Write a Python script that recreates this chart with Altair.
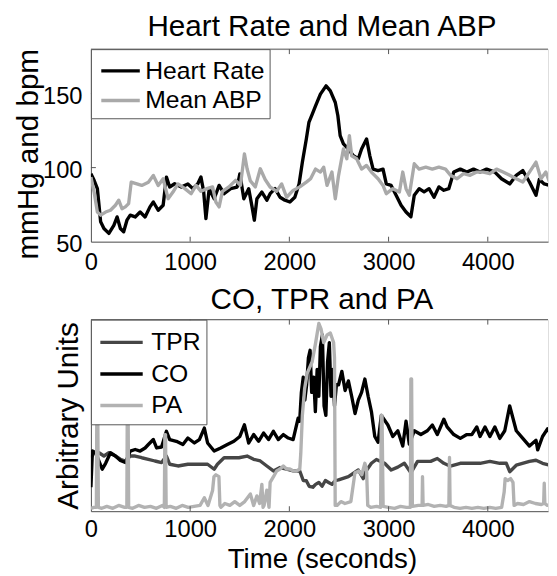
import altair as alt
import pandas as pd

FONT = "Liberation Sans"

# ---------------- data ----------------
hr_t = [0, 32, 65, 98, 131, 181, 231, 264, 297, 330, 363, 396, 446, 496, 546, 595, 629, 678, 728, 761,
        794, 844, 911, 977, 1027, 1076, 1109, 1136, 1159, 1192, 1242, 1292, 1342, 1408, 1474, 1501, 1541,
        1590, 1624, 1647, 1673, 1723, 1773, 1806, 1856, 1906, 1955, 2005, 2055, 2098, 2131, 2171, 2197,
        2230, 2264, 2313, 2370, 2413, 2463, 2489, 2512, 2545, 2595, 2645, 2695, 2728, 2778, 2811, 2844,
        2894, 2944, 2977, 3026, 3076, 3126, 3176, 3225, 3259, 3308, 3358, 3408, 3458, 3507, 3557, 3607,
        3657, 3723, 3789, 3856, 3922, 3988, 4071, 4138, 4221, 4287, 4353, 4420, 4486, 4519, 4569, 4622]
hr_v = [95.8, 91.4, 85.8, 63.4, 58.9, 55.6, 61, 66.7, 58.9, 56.7, 64.5, 67.9, 66.7, 70, 66.7, 73.5, 76.8,
        71.2, 74.6, 93.6, 86.9, 89.1, 86.9, 89, 85.8, 89, 93.6, 84, 65.6, 85.8, 79, 88, 82.4, 85.8, 86.9,
        95.8, 79, 85.8, 73.5, 64.5, 79, 83.5, 78, 82.4, 85.8, 80, 78, 76.8, 80, 89, 103.7, 119.3, 130.5,
        136, 141.7, 149.6, 155.2, 151.8, 144, 135, 121.6, 116, 112.6, 108, 106, 112.6, 119.4, 108, 99,
        98, 99, 89, 88, 81.3, 74.6, 70, 66.8, 81.3, 85.8, 83.6, 85.8, 80, 87, 84.7, 85.8,
        97, 99, 97, 99, 97, 99, 97, 92.5, 89, 94.8, 98, 90.3, 81.3, 92, 89, 88]

abp_t = [0, 32, 65, 98, 148, 197, 247, 280, 313, 347, 380, 406, 463, 512, 579, 629, 678, 728, 778, 827,
         877, 944, 1010, 1060, 1109, 1176, 1226, 1259, 1292, 1325, 1391, 1458, 1507, 1547, 1574, 1607,
         1657, 1707, 1756, 1806, 1872, 1922, 1972, 2038, 2105, 2171, 2214, 2264, 2313, 2346, 2380, 2429,
         2463, 2496, 2545, 2579, 2605, 2628, 2678, 2728, 2778, 2827, 2894, 2944, 2977, 3043, 3109, 3143,
         3176, 3209, 3259, 3308, 3375, 3441, 3507, 3574, 3624, 3690, 3756, 3822, 3889, 3955, 4021, 4088,
         4154, 4221, 4287, 4353, 4420, 4486, 4536, 4585, 4622]
abp_v = [93.6, 83.5, 70, 67.9, 70, 71.2, 74.6, 78, 72.3, 73.5, 75.7, 90.2, 89, 88, 90.2, 94.7, 88, 92.5,
         79, 83.5, 89, 86, 82.4, 88, 84, 86, 87, 76.8, 73.5, 84, 87, 91.4, 88, 109.3, 99.2, 91, 87, 99.2,
         92, 86.9, 84, 89, 80, 84.6, 87, 90.2, 92.5, 99, 97, 100.3, 88, 97, 79, 94.8, 112.6, 106, 121.6,
         108, 106, 99, 101.5, 97, 92.5, 88, 82.4, 85.8, 83.6, 97, 85.8, 81.3, 102.6, 99, 100.3, 99, 100.3,
         99, 94.8, 92.5, 95.9, 94.8, 97, 97, 95.9, 99, 97, 94.8, 92.5, 90.3, 97, 103.7, 92.5, 97, 90.3]

tpr_t = [0, 32, 81, 131, 181, 247, 297, 347, 396, 446, 512, 579, 645, 712, 761, 794, 877, 977, 1076,
         1176, 1242, 1275, 1342, 1425, 1491, 1574, 1640, 1707, 1773, 1839, 1906, 1972, 2038, 2105, 2140,
         2171, 2200, 2237, 2264, 2297, 2330, 2363, 2396, 2430, 2462, 2496, 2595, 2695, 2745, 2761, 2827,
         2877, 2960, 3026, 3093, 3159, 3225, 3292, 3424, 3491, 3557, 3623, 3723, 3823, 3922, 4021, 4121,
         4187, 4221, 4287, 4420, 4486, 4552, 4622]
tpr_v = [27.9, 30.5, 30.5, 28.8, 30.5, 28.8, 27.1, 26.2, 28.8, 28.8, 27.9, 27.1, 26.2, 25.4, 28.8, 24.5,
         23.6, 24.5, 24.5, 24.5, 21.9, 24.5, 27.9, 27.9, 27.9, 28.8, 27.1, 26.2, 23.6, 21, 22.8, 21.9, 21,
         21, 16, 15.9, 13, 12.5, 14, 15, 13, 16, 15, 14, 16, 16.3, 18, 21.5, 17, 20, 25, 27, 25, 21.5, 23,
         25, 20, 26, 26, 27.5, 25, 23.5, 25, 25, 25, 26, 25, 25, 20.6, 24, 26, 26.6, 25, 24]

co_t = [0, 15, 48, 81, 114, 148, 197, 247, 297, 347, 396, 446, 496, 546, 579, 629, 662, 712, 761, 794,
        861, 927, 977, 1043, 1093, 1143, 1176, 1242, 1308, 1375, 1441, 1501, 1547, 1590, 1640, 1690,
        1740, 1790, 1839, 1889, 1939, 1989, 2038, 2088, 2104, 2121, 2140, 2156, 2174, 2192, 2209, 2225,
        2245, 2262, 2280, 2297, 2313, 2333, 2350, 2368, 2385, 2403, 2420, 2438, 2455, 2474, 2496, 2529,
        2562, 2595, 2628, 2662, 2695, 2728, 2761, 2794, 2827, 2861, 2894, 2927, 2993, 3043, 3093, 3143,
        3176, 3209, 3259, 3325, 3391, 3441, 3491, 3557, 3590, 3657, 3723, 3789, 3839, 3889, 3922, 3972,
        4021, 4071, 4121, 4171, 4221, 4287, 4353, 4420, 4486, 4503, 4552, 4602, 4640]
co_v = [12.5, 31.4, 30.5, 26.2, 21.9, 25, 30.5, 28.8, 26.5, 25.4, 31.4, 32.2, 31.4, 33, 34.8, 37.4, 33,
        33.5, 41.7, 37.4, 36.5, 34.8, 38.2, 35.6, 37.4, 43.4, 35.6, 31.4, 33, 34.8, 36.5, 39, 45.1, 35.6,
        40, 36.5, 40.8, 37.4, 41.7, 37.4, 40, 38.2, 37.4, 48.5, 47, 62, 70, 58, 66, 80, 84, 62, 70, 52,
        74, 60, 86, 92, 55, 50, 78, 88, 60, 74, 55, 66, 66, 73, 63, 68, 60, 51, 58, 62, 69, 60, 52, 39,
        36, 50, 45, 39, 42, 34, 47, 35, 42, 40, 42, 45, 40, 48, 44, 40, 38, 40, 40, 44, 39, 44, 39, 44,
        38, 42, 55, 42, 38, 34, 37, 32, 39, 43, 40]

pa_t = [0, 30, 55, 60, 68, 75, 110, 160, 220, 280, 340, 362, 367, 374, 380, 420, 480, 540, 600, 660, 720,
        740, 745, 752, 758, 800, 860, 920, 980, 1040, 1100, 1143, 1180, 1226, 1240, 1260, 1290, 1300, 1310,
        1350, 1400, 1450, 1500, 1550, 1607, 1640, 1673, 1700, 1723, 1735, 1745, 1773, 1795, 1806, 1840,
        1872, 1906, 1939, 1972, 2005, 2040, 2071, 2105, 2115, 2131, 2154, 2180, 2230, 2265, 2297, 2320,
        2346, 2380, 2413, 2446, 2455, 2462, 2480, 2520, 2560, 2620, 2661, 2700, 2730, 2761, 2778, 2790,
        2820, 2880, 2920, 2927, 2934, 2945, 3000, 3060, 3120, 3180, 3220, 3225, 3232, 3240, 3300, 3338,
        3342, 3348, 3400, 3460, 3520, 3580, 3608, 3614, 3620, 3660, 3720, 3780, 3840, 3900, 3960, 4020,
        4080, 4140, 4165, 4175, 4200, 4230, 4254, 4265, 4300, 4360, 4420, 4480, 4540, 4563, 4569, 4575,
        4600, 4640]
pa_v = [1.5, 2, 2, 60, 60, 2, 1.5, 2.5, 1.5, 3, 2, 2, 60, 60, 2, 1.5, 3, 2, 2.5, 1.5, 3,
        2, 40, 40, 2, 2.5, 1.5, 3, 2, 2.5, 3, 7, 3, 10.8, 18, 19, 18, 3, 2,
        4, 3, 5, 3, 5, 9, 3, 8, 4, 14, 2, 3, 11, 2, 15, 18,
        21, 22, 23.6, 22, 22, 21, 21, 22, 30, 50, 64, 72, 78, 88, 98, 95,
        88, 92, 93, 88, 80, 3, 3, 5, 4, 5, 20, 21, 19, 25, 22, 3,
        2, 2.5, 2, 50, 50, 2.5, 2, 1.5, 2.5, 2, 2, 69, 69, 2.5, 3, 3,
        18, 3, 3.5, 2.5, 3, 2.5, 3, 28, 3, 2, 1.5, 2, 1.5, 2, 1.5, 2,
        1.5, 2, 10, 17, 16, 17, 15, 3, 4, 3.5, 5, 4, 3.5, 4, 14.6, 4,
        3, 3]

x_ticks = [1000, 2000, 3000, 4000]
top_y_ticks = [100, 150]

top_names = ["Heart Rate", "Mean ABP"]
top_colors = ["#000000", "#a9a9a9"]
bot_names = ["TPR", "CO", "PA"]
bot_colors = ["#464646", "#000000", "#b2b2b2"]

top_title_text = "Heart Rate and Mean ABP"
bot_title_text = "CO, TPR and PA"

# ---------------- tables ----------------
def long(name, ts, vs):
    return pd.DataFrame({"t": ts, "v": vs, "s": name})

top_df = pd.concat([long("Heart Rate", hr_t, hr_v), long("Mean ABP", abp_t, abp_v)])
bot_df = pd.concat([long("TPR", tpr_t, tpr_v), long("CO", co_t, co_v), long("PA", pa_t, pa_v)])
xt_df = pd.DataFrame({"t": x_ticks})
yt_df = pd.DataFrame({"v": top_y_ticks})
one = pd.DataFrame({"a": [0]})

W = 463
H1 = 195
H2 = 194
XMAX = 4607
FRAME = "#555555"
TITLE_X = 234  # title centre, relative to plot left edge
LW = 3.4

xscale = alt.Scale(domain=[0, XMAX], nice=False, zero=False)


def x_axis(title):
    kw = dict(values=[0, 1000, 2000, 3000, 4000], format="d", ticks=False, grid=False,
              labelFontSize=24, labelFont=FONT, labelColor="black", labelBaseline="alphabetic",
              labelPadding=28, labelFlush=False, labelOverlap=False, domainColor=FRAME)
    if title:
        kw.update(title=title, titleFontSize=28, titleFont=FONT, titleFontWeight="normal",
                  titleColor="black", titleBaseline="alphabetic", titleY=57, titleX=TITLE_X,
                  titleAlign="center", labelPadding=26)
    else:
        kw.update(title=None)
    return alt.Axis(**kw)


def panel(df, names, colors, ydomain, yaxis, xaxis, height, legend, title, title_gap, yticks=None):
    yscale = alt.Scale(domain=ydomain, nice=False, zero=False)
    xenc = alt.X("t:Q", scale=xscale, axis=xaxis)
    yenc = alt.Y("v:Q", scale=yscale, axis=yaxis)
    color = alt.Color("s:N", scale=alt.Scale(domain=names, range=colors), legend=legend)
    layers = []
    for n in names:
        layers.append(
            alt.Chart(df).transform_filter(alt.datum.s == n)
            .mark_line(strokeWidth=LW, clip=True, strokeJoin="round")
            .encode(x=xenc, y=yenc, color=color)
        )
    # top frame line
    layers.append(alt.Chart(one).mark_rule(color=FRAME, strokeWidth=1)
                  .encode(x=alt.value(0), x2=alt.value(W), y=alt.value(0)))
    # inward x ticks bottom and top
    layers.append(alt.Chart(xt_df).mark_rule(color=FRAME, strokeWidth=1)
                  .encode(x=xenc, y=alt.value(height), y2=alt.value(height - 5)))
    layers.append(alt.Chart(xt_df).mark_rule(color=FRAME, strokeWidth=1)
                  .encode(x=xenc, y=alt.value(0), y2=alt.value(5)))
    if yticks is not None:
        layers.append(alt.Chart(yticks).mark_rule(color=FRAME, strokeWidth=1)
                      .encode(y=yenc, x=alt.value(0), x2=alt.value(5)))
    # panel title as text
    layers.append(alt.Chart(one).mark_text(fontSize=30, font=FONT, color="black", align="center",
                                           baseline="alphabetic")
                  .encode(x=alt.value(TITLE_X), y=alt.value(-title_gap), text=alt.value(title)))
    return alt.layer(*layers).properties(width=W, height=height)


top_legend = alt.Legend(orient="top-left", offset=0, title=None, padding=5, strokeColor=FRAME,
                        fillColor="white", labelFontSize=25, labelFont=FONT, labelColor="black",
                        symbolType="M-1.3,0H1.3", symbolSize=900, symbolStrokeWidth=LW,
                        symbolOffset=8, rowPadding=0, labelOffset=8)
bot_legend = alt.Legend(orient="top-left", offset=0, title=None, padding=6, strokeColor=FRAME,
                        fillColor="white", labelFontSize=25, labelFont=FONT, labelColor="black",
                        symbolType="M-1.43,0H1.43", symbolSize=900, symbolStrokeWidth=LW,
                        symbolOffset=8, rowPadding=2, labelOffset=13)

top_yaxis = alt.Axis(values=[50, 100, 150], ticks=False, grid=False, labelPadding=9, labelFontSize=24,
                     labelFont=FONT, labelColor="black", domainColor=FRAME, labelOffset=3,
                     title="mmHg and bpm", titleFontSize=30, titleFont=FONT, titleFontWeight="normal",
                     titleColor="black", titleX=-54, titleY=106, titleAngle=270,
                     titleBaseline="alphabetic", titleAlign="center")
bot_yaxis = alt.Axis(labels=False, ticks=False, grid=False, domainColor=FRAME,
                     title="Arbitrary Units", titleFontSize=30, titleFont=FONT, titleFontWeight="normal",
                     titleColor="black", titleX=-14, titleY=97, titleAngle=270,
                     titleBaseline="alphabetic", titleAlign="center")

top = panel(top_df, top_names, top_colors, [50, 180], top_yaxis, x_axis(None), H1, top_legend,
            top_title_text, 13, yt_df)
bottom = panel(bot_df, bot_names, bot_colors, [0, 100], bot_yaxis, x_axis("Time (seconds)"), H2,
               bot_legend, bot_title_text, 11)

chart = (
    alt.vconcat(top, bottom, spacing=9)
    .resolve_scale(color="independent")
    .properties(padding={"left": 5, "top": 0, "right": 0, "bottom": 0})
    .configure_view(stroke=None)
    .configure(font=FONT)
)

chart.save("out.html", embed_options={"renderer": "svg", "actions": False})
